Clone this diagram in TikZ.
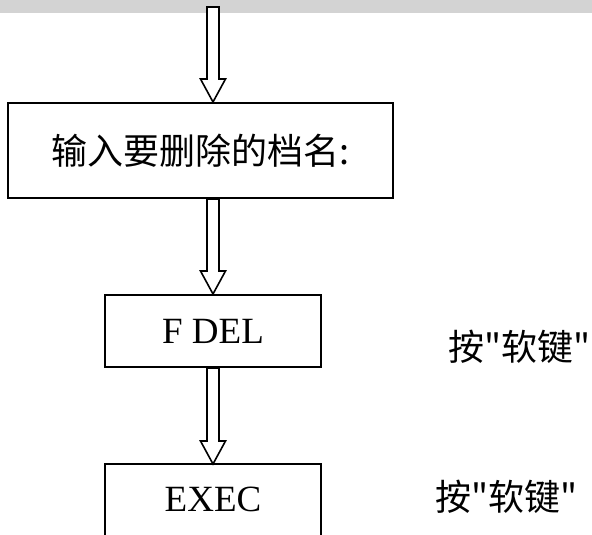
\documentclass[tikz,border=0pt]{standalone}
\usepackage{fontspec}
\setmainfont{Liberation Serif}
\newfontfamily\cjk{Noto Sans CJK SC}
\usetikzlibrary{calc,positioning}
\definecolor{bargray}{RGB}{211,211,211}
\tikzset{
  stepbox/.style={
    draw,
    line width=1pt,
    inner sep=0pt,
    align=center,
    font=\fontsize{18.5}{20}\selectfont
  },
  openbox/.style={
    inner sep=0pt,
    minimum width=108pt,
    minimum height=35pt,
    font=\fontsize{18.5}{20}\selectfont
  },
  keynote/.style={
    anchor=west,
    inner sep=0pt,
    font=\cjk\fontsize{18}{20}\selectfont
  },
  arrowbody/.style={draw=black, fill=white, line width=0.8pt, line join=miter},
  boxline/.style={line width=1pt}
}
% hollow block arrow from #1 down to #2
\newcommand{\hollowarrow}[2]{%
  \filldraw[arrowbody] let \p1=(#1), \p2=(#2) in
    (\x2-3pt,\y1) -- (\x2-3pt,\y2+11.5pt) -- (\x2-6.25pt,\y2+11.5pt) -- (\x2,\y2)
    -- (\x2+6.25pt,\y2+11.5pt) -- (\x2+3pt,\y2+11.5pt) -- (\x2+3pt,\y1) -- cycle;}

\begin{document}
\begin{tikzpicture}[x=0.5pt,y=-0.5pt]
  \useasboundingbox (0,0) rectangle (592,534);
  \fill[bargray] (0,0) rectangle (592,13);

  \coordinate (top) at (213,7);
  \node[stepbox, minimum width=192.5pt, minimum height=47.5pt, font=\cjk\fontsize{18}{20}\selectfont] (input) at (200.5,150.5) {输入要删除的档名:};
  \node[stepbox, minimum width=108pt, minimum height=36pt] (fdel) at (213,331) {F DEL};
  \node[openbox, below=48pt of fdel] (exec) {EXEC};
  \draw[boxline] ([yshift=-10pt]exec.south west) |- (exec.north) -| ([yshift=-10pt]exec.south east);

  \node[keynote] (note1) at (448,347) {按"软键"};
  \node[keynote] (note2) at (435,497) {按"软键"};

  \hollowarrow{top}{input.north -| top}
  \hollowarrow{input.south}{fdel.north}
  \hollowarrow{fdel.south}{exec.north}
\end{tikzpicture}
\end{document}
